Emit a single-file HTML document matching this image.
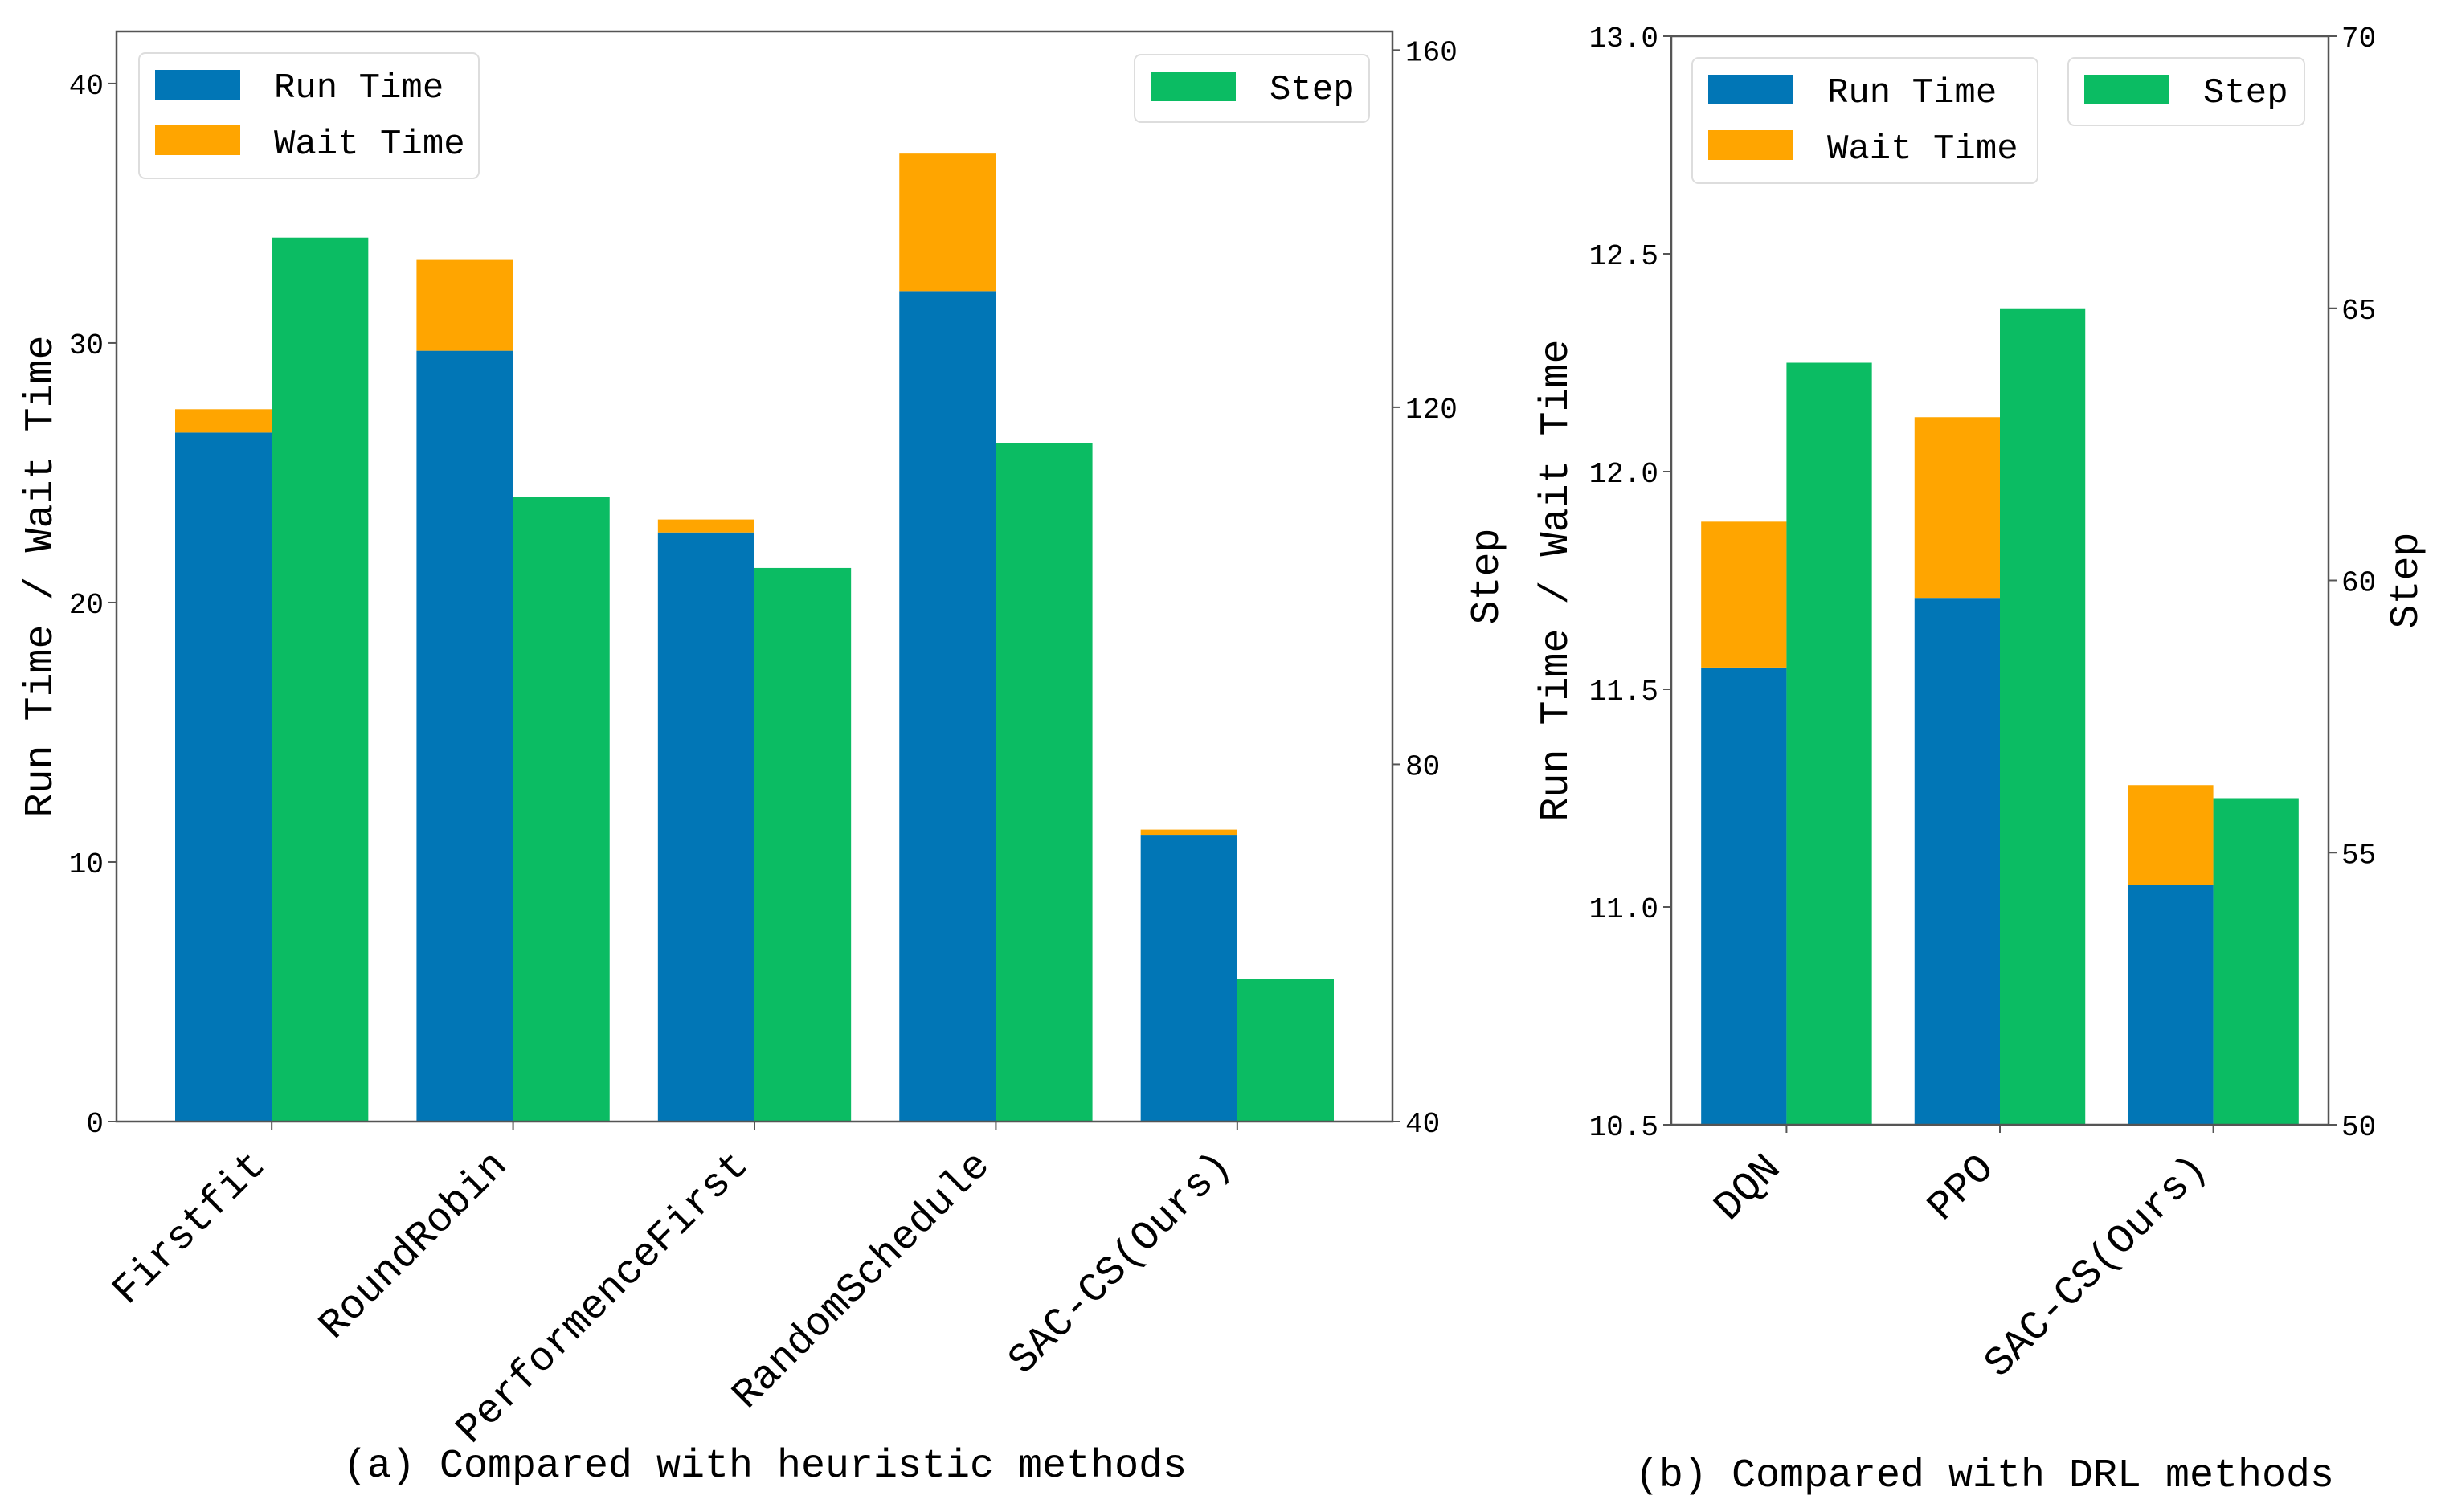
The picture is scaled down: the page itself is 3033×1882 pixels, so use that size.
<!DOCTYPE html>
<html><head><meta charset="utf-8"><style>
html,body{margin:0;padding:0;background:#fff;}
svg{display:block;}
text{font-family:"Liberation Mono",monospace;fill:#000;}
</style></head><body>
<svg id="fig" width="3033" height="1882" viewBox="0 0 3033 1882" xmlns="http://www.w3.org/2000/svg"></svg>
<script>
const catsA = ["Firstfit","RoundRobin","PerformenceFirst","RandomSchedule","SAC-CS(Ours)"];
const runA = [26.55,29.7,22.7,32.0,11.05];
const waitA = [0.9,3.5,0.5,5.3,0.2];
const stepA = [139,110,102,116,56];
const ticksAL = [0,10,20,30,40];
const ticksAR = [40,80,120,160];

const catsB = ["DQN","PPO","SAC-CS(Ours)"];
const runB = [11.55,11.71,11.05];
const waitB = [0.335,0.415,0.23];
const stepB = [64,65,56];
const ticksBL = [10.5,11.0,11.5,12.0,12.5,13.0];
const ticksBR = [50,55,60,65,70];

const NS = "http://www.w3.org/2000/svg";
const svg = document.getElementById("fig");
const BLUE="#0176b6", ORANGE="#ffa500", GREEN="#0bbc63", SPINE="#555";

function mk(tag, attrs, parent, txt){
  const e=document.createElementNS(NS,tag);
  for(const k in attrs) e.setAttribute(k,attrs[k]);
  if(txt!==undefined) e.textContent=txt;
  (parent||svg).appendChild(e); return e;
}
function lin(d0,d1,r0,r1){return v=>r0+(v-d0)/(d1-d0)*(r1-r0);}

function chart(cfg){
  const g=mk("g",{});
  
  
  const {L,R,T,B}=cfg;
  const x=lin(cfg.xd[0],cfg.xd[1],L,R);
  const yl=lin(cfg.yl[0],cfg.yl[1],B,T);
  const yr=lin(cfg.yr[0],cfg.yr[1],B,T);
  const bw=(x(1)-x(0))*0.4;
  cfg.cats.forEach((c,i)=>{
    const cx=x(i);
    const r=mk("rect",{x:cx-bw,y:yl(cfg.run[i]),width:bw,height:B-yl(cfg.run[i]),fill:BLUE},g);
    
    
    const tot=cfg.run[i]+cfg.wait[i];
    const w=mk("rect",{x:cx-bw,y:yl(tot),width:bw,height:yl(cfg.run[i])-yl(tot),fill:ORANGE},g);
    
    
    const s=mk("rect",{x:cx,y:yr(cfg.step[i]),width:bw,height:B-yr(cfg.step[i]),fill:GREEN},g);
    
    
    mk("line",{x1:cx,y1:B,x2:cx,y2:B+10,stroke:SPINE,"stroke-width":2},g);
    const ax=cx-6, ay=B+56;
    const t=mk("text",{x:ax,y:ay,"text-anchor":"end","font-size":51,transform:`rotate(-45 ${ax} ${ay})`},g,c);
    
    
  });
  mk("rect",{x:L,y:T,width:R-L,height:B-T,fill:"none",stroke:SPINE,"stroke-width":2.5},g);
  cfg.tl.forEach(v=>{
    mk("line",{x1:L-10,y1:yl(v),x2:L,y2:yl(v),stroke:SPINE,"stroke-width":2},g);
    const t=mk("text",{x:L-16,y:yl(v)+13,"text-anchor":"end","font-size":36},g,cfg.fmtL(v));
    
    
  });
  cfg.tr.forEach(v=>{
    mk("line",{x1:R,y1:yr(v),x2:R+10,y2:yr(v),stroke:SPINE,"stroke-width":2},g);
    const t=mk("text",{x:R+16,y:yr(v)+13,"font-size":36},g,String(v));
    
    
  });
  const yc=(T+B)/2;
  const yt=mk("text",{x:cfg.ylx,y:yc,"text-anchor":"middle","font-size":50,transform:`rotate(-90 ${cfg.ylx} ${yc})`},g,"Run Time / Wait Time");
  
  
  const st=mk("text",{x:cfg.srx,y:yc,"text-anchor":"middle","font-size":50,transform:`rotate(-90 ${cfg.srx} ${yc})`},g,"Step");
  
  
  const lg=cfg.lg;
  const l1=mk("g",{},g);
  
  
  mk("rect",{x:lg.x,y:lg.y,width:lg.w,height:156,rx:8,fill:"#fff","fill-opacity":0.85,stroke:"#ddd","stroke-width":2},l1);
  mk("rect",{x:lg.x+20,y:lg.y+21,width:106,height:37,fill:BLUE},l1);
  mk("rect",{x:lg.x+20,y:lg.y+90,width:106,height:37,fill:ORANGE},l1);
  mk("text",{x:lg.x+168,y:lg.y+55,"font-size":44},l1,"Run Time");
  mk("text",{x:lg.x+168,y:lg.y+125,"font-size":44},l1,"Wait Time");
  const sg=cfg.sg;
  const l2=mk("g",{},g);
  
  
  mk("rect",{x:sg.x,y:sg.y,width:sg.w,height:84,rx:8,fill:"#fff","fill-opacity":0.85,stroke:"#ddd","stroke-width":2},l2);
  mk("rect",{x:sg.x+20,y:sg.y+21,width:106,height:37,fill:GREEN},l2);
  mk("text",{x:sg.x+168,y:sg.y+55,"font-size":44},l2,"Step");
  const cp=mk("text",{x:cfg.cap[0],y:cfg.cap[1],"text-anchor":"middle","font-size":50},g,cfg.capText);
  
  
}

chart({name:"heuristic-chart",L:145,R:1733,T:39,B:1396,xd:[-0.643,4.643],
  yl:[0,42.01],yr:[40,162.1],cats:catsA,run:runA,wait:waitA,step:stepA,
  tl:ticksAL,tr:ticksAR,fmtL:v=>String(v),ylx:64,srx:1864,
  lg:{x:173,y:66,w:423},sg:{x:1412,y:68,w:292},
  cap:[952,1838],capText:"(a) Compared with heuristic methods"});
chart({name:"drl-chart",L:2080,R:2898,T:45,B:1400,xd:[-0.54,2.54],
  yl:[10.5,13.0],yr:[50,70],cats:catsB,run:runB,wait:waitB,step:stepB,
  tl:ticksBL,tr:ticksBR,fmtL:v=>v.toFixed(1),ylx:1950,srx:3008,
  lg:{x:2106,y:72,w:430},sg:{x:2574,y:72,w:294},
  cap:[2470,1850],capText:"(b) Compared with DRL methods"});
</script>
</body></html>
